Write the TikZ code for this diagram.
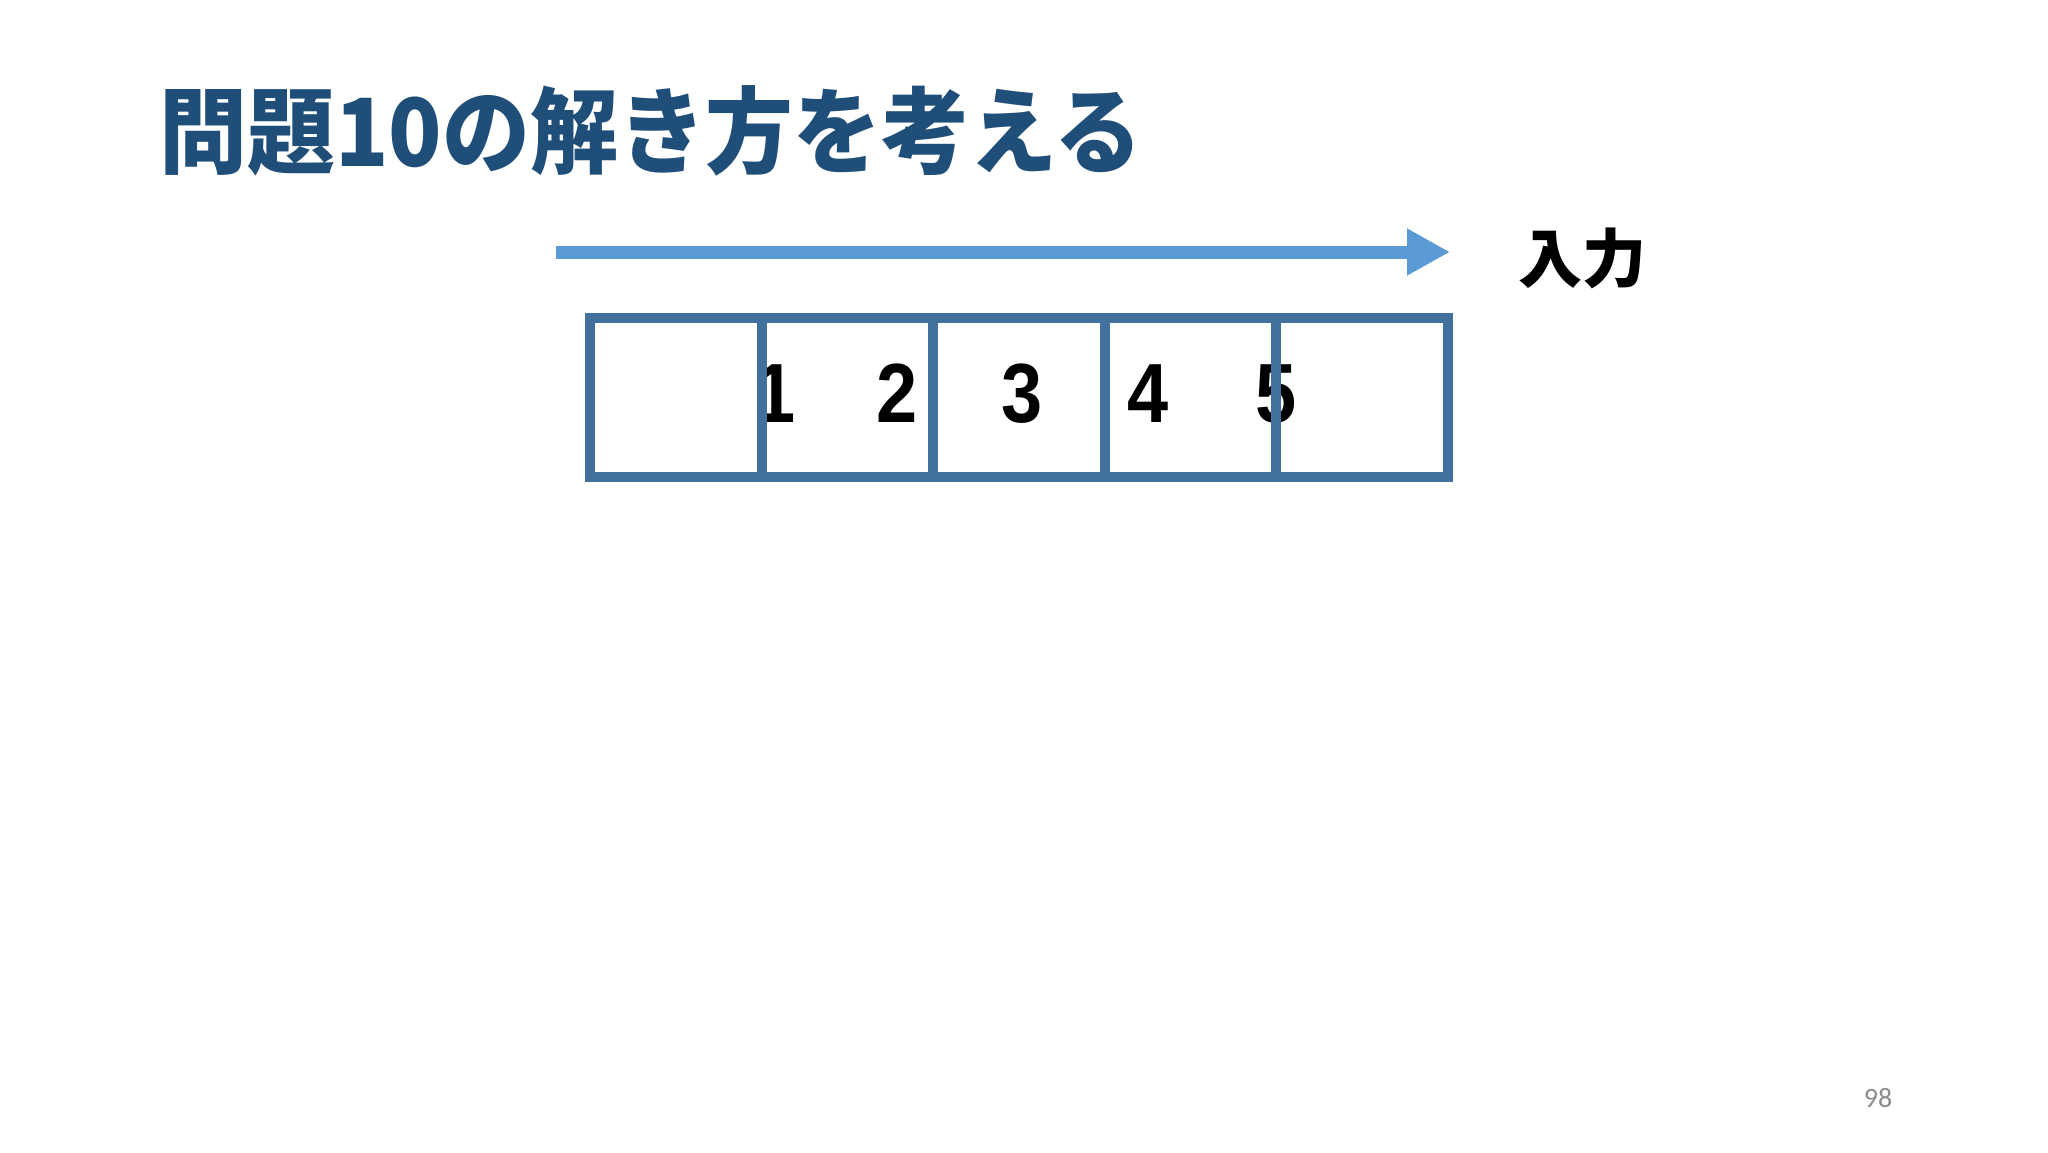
\documentclass[tikz,border=0pt]{standalone}
\usepackage{fontspec}
\setmainfont{Liberation Sans}
\newfontfamily\jpfont{Noto Sans CJK JP}
\newfontfamily\numfont{Liberation Sans}
\newfontfamily\pgfont{Carlito}
\usetikzlibrary{arrows.meta}
\definecolor{titleblue}{HTML}{1F4E79}
\definecolor{boxblue}{HTML}{41719C}
\definecolor{arrowblue}{HTML}{5B9BD5}
\definecolor{pagegray}{HTML}{8C8C8C}
\tikzset{
  cell/.style={draw=boxblue, line width=5pt, minimum width=85.8pt, minimum height=79.5pt, inner sep=0pt, outer sep=0pt},
  digit/.style={anchor=base, inner sep=0pt, font=\numfont\bfseries\fontsize{42pt}{44pt}\selectfont},
  titletext/.style={anchor=west, inner sep=0pt, text=titleblue, font=\jpfont\bfseries\fontsize{47pt}{50pt}\selectfont},
  labeltext/.style={inner sep=0pt, font=\jpfont\bfseries\fontsize{32pt}{34pt}\selectfont},
  flow/.style={draw=arrowblue, line width=6.5pt, -{Triangle[length=21.5pt,width=22pt]}}
}
\begin{document}
\begin{tikzpicture}[x=0.5pt,y=-0.5pt]
\useasboundingbox[fill=white] (0,0) rectangle (2048,1152);
% title
\node[titletext] (title) at (159,131) {\scalebox{0.935}[1]{問題10の解き方を考える}};
% arrow and label
\coordinate (as) at (556,252);
\coordinate (ae) at (1450,252);
\draw[flow] (as) -- (ae);
\node[labeltext] (input) at (1582,258) {入力};
% digits
\node[digit] (d1) at (775,422) {\scalebox{0.88}[1]{1}};
\node[digit] (d2) at (897,422) {\scalebox{0.88}[1]{2}};
\node[digit] (d3) at (1022,422) {\scalebox{0.88}[1]{3}};
\node[digit] (d4) at (1148,422) {\scalebox{0.88}[1]{4}};
\node[digit] (d5) at (1276,422) {\scalebox{0.88}[1]{5}};
% cells
\node[cell] (c1) at (675.8,397.5) {};
\node[cell] (c2) at (847.4,397.5) {};
\node[cell] (c3) at (1019,397.5) {};
\node[cell] (c4) at (1190.6,397.5) {};
\node[cell] (c5) at (1362.2,397.5) {};
% page number
\node[inner sep=0pt, text=pagegray, font=\pgfont\fontsize{14pt}{16pt}\selectfont] (page) at (1878,1098) {98};
\end{tikzpicture}
\end{document}
